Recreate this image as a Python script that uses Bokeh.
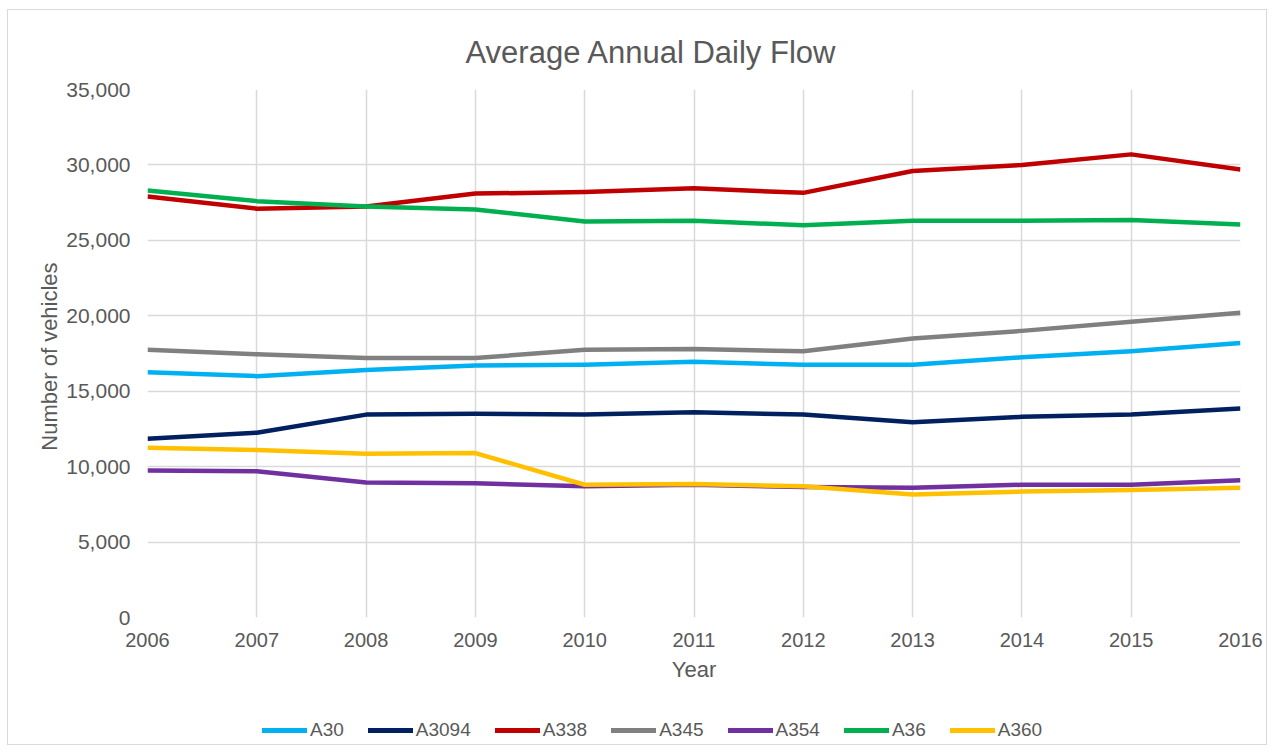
from bokeh.plotting import figure
from bokeh.layouts import column
from bokeh.models import Range1d, SingleIntervalTicker, NumeralTickFormatter, Legend, LegendItem, FixedTicker
from bokeh.embed import file_html
from bokeh.resources import INLINE

years = [2006, 2007, 2008, 2009, 2010, 2011, 2012, 2013, 2014, 2015, 2016]
a30 = [16250, 16000, 16400, 16700, 16750, 16950, 16750, 16750, 17250, 17650, 18200]
a3094 = [11850, 12250, 13450, 13500, 13450, 13600, 13450, 12950, 13300, 13450, 13850]
a338 = [27900, 27100, 27250, 28100, 28200, 28450, 28150, 29600, 30000, 30700, 29700]
a345 = [17750, 17450, 17200, 17200, 17750, 17800, 17650, 18500, 19000, 19600, 20200]
a354 = [9750, 9700, 8950, 8900, 8700, 8800, 8650, 8600, 8800, 8800, 9100]
a36 = [28300, 27600, 27250, 27050, 26250, 26300, 26000, 26300, 26300, 26350, 26050]
a360 = [11250, 11100, 10850, 10900, 8800, 8850, 8700, 8150, 8350, 8450, 8600]

series_names = ["A30", "A3094", "A338", "A345", "A354", "A36", "A360"]
series_values = [a30, a3094, a338, a345, a354, a36, a360]
colors = ["#00B0F0", "#002060", "#C00000", "#808080", "#7030A0", "#00B050", "#FFC000"]

FONT = "Liberation Sans"
TXT = "#595959"

p = figure(width=1258, height=679, output_backend="svg", toolbar_location=None,
           x_range=Range1d(2006, 2016), y_range=Range1d(0, 35000),
           min_border_left=139, min_border_right=26, min_border_top=79, min_border_bottom=72,
           title="Average Annual Daily Flow")

p.title.text_font = FONT
p.title.text_font_size = "31px"
p.title.text_font_style = "normal"
p.title.text_color = TXT
p.title.align = "left"
p.title.offset = 318
p.title.standoff = 40

p.outline_line_color = None
p.background_fill_color = "white"
p.border_fill_color = "white"

p.xaxis.ticker = FixedTicker(ticks=years)
p.yaxis.ticker = SingleIntervalTicker(interval=5000)
p.yaxis.formatter = NumeralTickFormatter(format="0,0")

for ax in (p.xaxis[0], p.yaxis[0]):
    ax.axis_line_color = None
    ax.major_tick_line_color = None
    ax.minor_tick_line_color = None
    ax.major_tick_out = 0
    ax.major_tick_in = 0
    ax.minor_tick_out = 0
    ax.minor_tick_in = 0
    ax.major_label_text_font = FONT
    ax.major_label_text_color = TXT
    ax.axis_label_text_font = FONT
    ax.axis_label_text_font_size = "22px"
    ax.axis_label_text_font_style = "normal"
    ax.axis_label_text_color = TXT

p.xaxis.major_label_text_font_size = "20px"
p.yaxis.major_label_text_font_size = "21px"
p.xaxis.axis_label = "Year"
p.yaxis.axis_label = "Number  of vehicles"
p.xaxis.major_label_standoff = 15
p.xaxis.axis_label_standoff = 7
p.yaxis.major_label_standoff = 17
p.yaxis.axis_label_standoff = 1

p.xgrid.grid_line_color = "#d9d9d9"
p.ygrid.grid_line_color = "#d9d9d9"
p.xgrid.grid_line_width = 1.5
p.ygrid.grid_line_width = 1.5

for name, vals, c in zip(series_names, series_values, colors):
    p.line(years, vals, line_color=c, line_width=4.5, line_join="round")

# legend strip below the chart (same series; lines lie outside its empty view)
lg = figure(width=1258, height=55, output_backend="svg", toolbar_location=None,
            x_range=Range1d(0, 1), y_range=Range1d(0, 1),
            x_axis_location=None, y_axis_location=None,
            min_border_left=0, min_border_right=0, min_border_top=0, min_border_bottom=0)
lg.grid.visible = False
lg.outline_line_color = None
lg.background_fill_color = "white"
lg.border_fill_color = "white"

items = []
for name, vals, c in zip(series_names, series_values, colors):
    r = lg.line(years, vals, line_color=c, line_width=5, line_cap="round")
    items.append(LegendItem(label=name, renderers=[r]))

legend = Legend(items=items, orientation="horizontal", glyph_width=45, glyph_height=20,
                label_standoff=3, spacing=24, label_text_font=FONT, label_text_font_size="19px",
                label_text_color=TXT, border_line_color=None, background_fill_alpha=0,
                margin=0, padding=0, location=(115, 3))
lg.add_layout(legend, "center")

layout = column(p, lg, spacing=0, margin=(9, 0, 0, 7),
                styles={"border": "1px solid #d9d9d9"})

open("out.html", "w").write(file_html(layout, INLINE))
